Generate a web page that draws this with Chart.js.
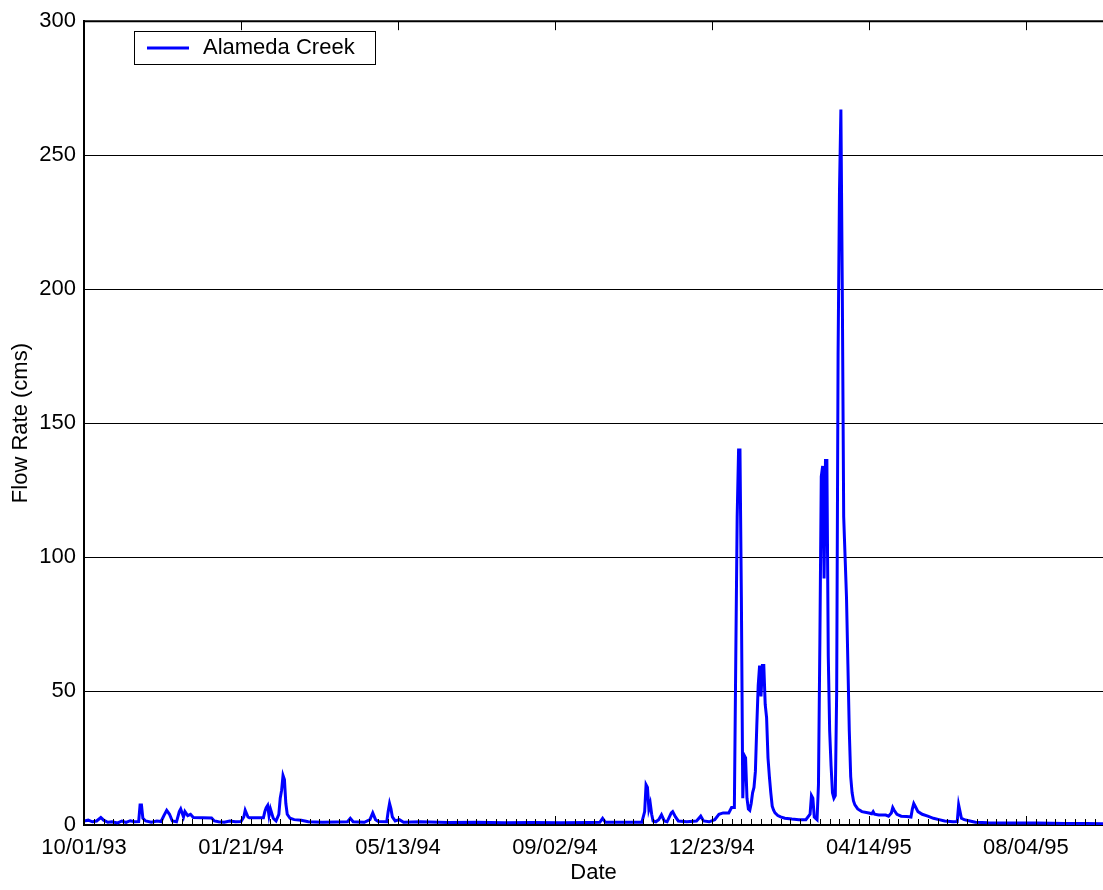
<!DOCTYPE html>
<html>
<head>
<meta charset="utf-8">
<title>Alameda Creek flow</title>
<script src="https://cdn.jsdelivr.net/npm/chart.js@4.4.1/dist/chart.umd.min.js"></script>
<style>
  html, body { margin: 0; padding: 0; background: #fff; overflow: hidden; }
  canvas { display: block; }
</style>
</head>
<body>
<canvas id="flowChart" width="1103" height="890"></canvas>
<script>
// daily flow, days counted from 10/01/93
var flowDay = [0, 3, 6, 9, 12, 14, 17, 20, 24, 27, 30, 33, 36, 39, 40, 41, 42, 44, 48, 52, 55, 57, 59, 61, 63, 66, 68, 69, 71, 72, 74, 76, 78, 91, 93, 96, 100, 104, 108, 112,
    114, 115, 117, 118, 128, 129, 130, 131, 132, 133, 135, 137, 139, 140, 141, 142, 143, 144, 145, 147, 150, 155, 160, 170, 180, 188, 190, 192, 200, 204, 206, 208, 210, 216, 217, 218, 219, 220, 222, 225, 228,
    240, 260, 280, 300, 320, 340, 360, 368, 370, 372, 398, 400, 401, 402, 403, 404, 405, 406, 408, 410, 412, 414, 416, 419, 420, 422, 424, 430, 437, 440, 442, 446, 450, 453, 456, 460, 462, 464,
    465, 466, 467, 468, 469, 470, 471, 472, 473, 474, 475, 476, 477, 478, 479, 480, 481, 482, 483, 484, 485, 486, 487, 488, 489, 490, 491, 492, 493, 495, 497, 500, 505, 510, 515,
    518, 519, 520, 521, 522, 523, 524, 525, 526, 527, 528, 529, 530, 531, 532, 533, 534, 535, 536, 537, 538, 539, 540, 541, 542, 543, 544, 545, 546, 547, 548, 549, 550, 552, 555,
    560, 562, 563, 564, 567, 572, 574, 576, 577, 578, 580, 583, 587, 590, 591, 592, 593, 595, 598, 602, 606, 610, 614, 620, 623, 624, 625, 626, 628, 632, 636, 645, 660, 680, 700, 715, 727];
var flowCms = [1.5, 1.8, 1.2, 1.5, 2.8, 1.8, 1.0, 1.2, 0.8, 1.5, 1.0, 1.6, 1.2, 1.3, 7.5, 7.5, 2.5, 1.5, 1.0, 1.5, 1.3, 3.5, 5.5, 4.0, 1.5, 1.2, 5.0, 6.0, 3.0, 5.0, 3.5, 4.0, 2.8, 2.6, 1.5, 1.2, 1.0, 1.5, 1.2, 1.3,
    3.0, 5.5, 3.0, 2.7, 2.7, 5.0, 6.5, 7.3, 3.5, 6.0, 2.5, 1.5, 4.0, 10, 13, 18.5, 17, 8, 4, 2.5, 2.0, 1.8, 1.2, 1.0, 1.1, 1.2, 2.5, 1.2, 1.0, 2.0, 4.5, 2.0, 1.3, 1.2, 5, 8.0, 6, 3.0, 1.5, 2.0, 1.0,
    1.2, 0.9, 1.0, 0.8, 0.9, 0.8, 0.9, 1.0, 2.5, 1.0, 1.0, 5, 15, 14, 6, 8, 4, 1.5, 1.2, 2.0, 3.8, 1.5, 1.2, 4.5, 5.0, 3.0, 1.5, 1.2, 1.5, 3.3, 1.5, 1.2, 2.0, 4.0, 4.5, 4.5, 6.5, 6.5,
    62, 115, 140, 140, 85, 10, 26, 25, 10, 6, 5.5, 8, 12, 14, 20, 37, 52, 59.5, 48, 59.5, 59.5, 45, 40, 25, 18, 12, 7, 5.5, 4.5, 3.5, 3.0, 2.5, 2.2, 2.0, 2.0,
    4, 11, 10, 3, 2.5, 2.0, 15, 68, 130, 134, 92, 136, 136, 63, 35, 22, 12, 10, 11, 50, 176, 237, 267, 200, 115, 100, 85, 60, 35, 18, 12, 9, 7.5, 6, 5,
    4.5, 4.2, 5, 4, 3.7, 3.7, 3.3, 4.5, 6.5, 5.5, 4, 3.3, 3.2, 3.0, 6, 8, 7, 5, 4.0, 3.3, 2.5, 2.0, 1.5, 1.2, 1.3, 7.5, 5, 2.5, 2.0, 1.5, 1.0, 0.8, 0.7, 0.7, 0.6, 0.6, 0.5];

var tickDays = [0, 112, 224, 336, 448, 560, 672];
var tickLabels = ['10/01/93', '01/21/94', '05/13/94', '09/02/94', '12/23/94', '04/14/95', '08/04/95'];
var yTicks = [0, 50, 100, 150, 200, 250, 300];

var lineColor = '#0000ff';
var fontFamily = 'Arial, "Liberation Sans", Helvetica, sans-serif';

var points = flowDay.map(function (d, i) { return { x: d, y: flowCms[i] }; });

// inward tick marks, top border and boxed legend drawn over the data
var axesOverlay = {
    id: 'axesOverlay',
    afterDraw: function (chart) {
        var ctx = chart.ctx;
        var xs = chart.scales.x;
        var area = chart.chartArea;
        ctx.save();
        ctx.strokeStyle = '#000';
        ctx.lineWidth = 1;
        ctx.beginPath();
        for (var d = 0; d <= xs.max; d += 7) {
            var px = Math.round(xs.getPixelForValue(d)) + 0.5;
            var major = d % 112 === 0;
            var len = major ? 9 : 6;
            ctx.moveTo(px, area.bottom);
            ctx.lineTo(px, area.bottom - len);
            if (major) {
                ctx.moveTo(px, area.top);
                ctx.lineTo(px, area.top + len);
            }
        }
        ctx.stroke();

        ctx.lineWidth = 2;
        ctx.beginPath();
        ctx.moveTo(area.left, area.top);
        ctx.lineTo(area.right, area.top);
        ctx.stroke();

        // legend
        var ds = chart.data.datasets[0];
        ctx.fillStyle = '#fff';
        ctx.fillRect(134, 31, 241, 33);
        ctx.lineWidth = 1;
        ctx.strokeStyle = '#000';
        ctx.strokeRect(134.5, 31.5, 241, 33);
        ctx.strokeStyle = ds.borderColor;
        ctx.lineWidth = 3;
        ctx.beginPath();
        ctx.moveTo(147, 48);
        ctx.lineTo(189, 48);
        ctx.stroke();
        ctx.fillStyle = '#000';
        ctx.font = '22px ' + fontFamily;
        ctx.textBaseline = 'middle';
        ctx.fillText(ds.label, 203, 48);
        ctx.restore();
    }
};

var ctx = document.getElementById('flowChart');
var flowChart = new Chart(ctx, {
    type: 'line',
    data: {
        datasets: [{
            label: 'Alameda Creek',
            data: points,
            borderColor: lineColor,
            borderWidth: 3,
            pointRadius: 0,
            tension: 0,
            fill: false
        }]
    },
    options: {
        responsive: false,
        animation: false,
        devicePixelRatio: 1,
        layout: {
            padding: { top: 19, right: 0, left: 0, bottom: 0 }
        },
        plugins: {
            legend: { display: false },
            tooltip: { enabled: false }
        },
        scales: {
            x: {
                type: 'linear',
                min: 0,
                max: 727,
                z: 1,
                afterBuildTicks: function (scale) {
                    scale.ticks = tickDays.map(function (v) { return { value: v }; });
                },
                afterFit: function (scale) { scale.height = 65; },
                ticks: {
                    autoSkip: false,
                    maxRotation: 0,
                    padding: 10,
                    color: '#000',
                    font: { family: fontFamily, size: 22 },
                    callback: function (value) {
                        var i = tickDays.indexOf(value);
                        return i >= 0 ? tickLabels[i] : '';
                    }
                },
                grid: { display: false, drawTicks: false },
                border: { display: true, color: '#000', width: 2 },
                title: {
                    display: true,
                    text: 'Date',
                    color: '#000',
                    font: { family: fontFamily, size: 22 },
                    padding: { top: 0, bottom: 4 }
                }
            },
            y: {
                min: 0,
                max: 300,
                z: 1,
                afterBuildTicks: function (scale) {
                    scale.ticks = yTicks.map(function (v) { return { value: v }; });
                },
                afterFit: function (scale) { scale.width = 84; },
                ticks: {
                    padding: 8,
                    color: '#000',
                    font: { family: fontFamily, size: 22 }
                },
                grid: { color: '#000', lineWidth: 1, drawTicks: false, tickLength: 0 },
                border: { display: true, color: '#000', width: 2 },
                title: {
                    display: true,
                    text: 'Flow Rate (cms)',
                    color: '#000',
                    font: { family: fontFamily, size: 22 },
                    padding: { top: 8, bottom: 0 }
                }
            }
        }
    },
    plugins: [axesOverlay]
});
</script>
</body>
</html>
